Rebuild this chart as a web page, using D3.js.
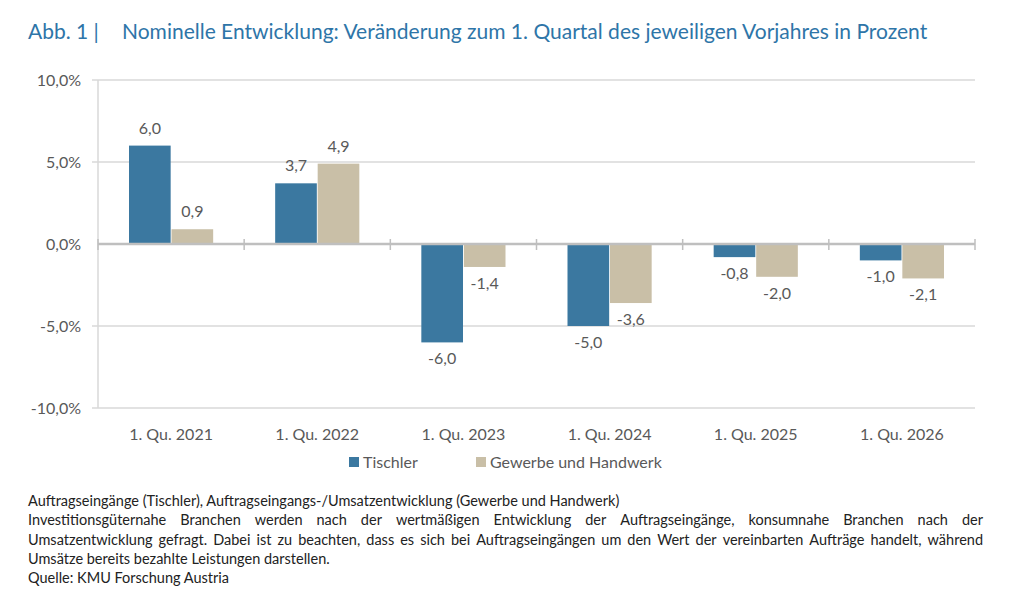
<!DOCTYPE html>
<html lang="de">
<head>
  <meta charset="UTF-8" />
  <title>Nominelle Entwicklung</title>
  <script src="https://d3js.org/d3.v7.min.js"></script>
  <style>
    body {
      margin: 0;
      background: #fff;
      font-family: Lato, "Open Sans", sans-serif;
    }
    svg { display: block; }
    .tick-label, .cat-label, .legend-label {
      font-size: 16px;
      fill: #595959;
    }
    .value-label {
      font-size: 16px;
      fill: #595959;
      text-anchor: middle;
    }
    .note {
      font-size: 14.5px;
      fill: #222;
    }
  </style>
</head>
<body>
  <svg width="1024" height="590"></svg>
  <script>
    const categories = ["1. Qu. 2021", "1. Qu. 2022", "1. Qu. 2023", "1. Qu. 2024", "1. Qu. 2025", "1. Qu. 2026"];
    const seriesNames = ["Tischler", "Gewerbe und Handwerk"];
    const tischler = [6.0, 3.7, -6.0, -5.0, -0.8, -1.0];
    const gewerbe = [0.9, 4.9, -1.4, -3.6, -2.0, -2.1];
    const yTicks = [10, 5, 0, -5, -10];
    const colors = ["#3b78a0", "#c9bfa7"];

    const notes = [
      { text: "Auftragseingänge (Tischler), Auftragseingangs-/Umsatzentwicklung (Gewerbe und Handwerk)", justify: false },
      { text: "Investitionsgüternahe Branchen werden nach der wertmäßigen Entwicklung der Auftragseingänge, konsumnahe Branchen nach der", justify: true },
      { text: "Umsatzentwicklung gefragt. Dabei ist zu beachten, dass es sich bei Auftragseingängen um den Wert der vereinbarten Aufträge handelt, während", justify: true },
      { text: "Umsätze bereits bezahlte Leistungen darstellen.", justify: false },
      { text: "Quelle: KMU Forschung Austria", justify: false }
    ];

    const svg = d3.select("svg");
    const plotLeft = 98, plotRight = 975, plotTop = 80, plotBottom = 408;

    // title
    svg.append("text")
      .attr("x", 28).attr("y", 39)
      .attr("fill", "#2e75a8")
      .style("font-size", "21px")
      .text("Abb. 1 |");
    svg.append("text")
      .attr("x", 122).attr("y", 39)
      .attr("fill", "#2e75a8")
      .style("font-size", "21px")
      .text("Nominelle Entwicklung: Veränderung zum 1. Quartal des jeweiligen Vorjahres in Prozent");

    const y = d3.scaleLinear().domain([-10, 10]).range([plotBottom, plotTop]);
    const x0 = d3.scaleBand().domain(categories).range([plotLeft, plotRight]);
    const x1 = d3.scaleBand().domain(seriesNames).range([31, x0.bandwidth() - 31]).paddingInner(0.02);

    // gridlines
    svg.append("g")
      .selectAll("line")
      .data(yTicks.filter(d => d !== 0))
      .join("line")
      .attr("x1", plotLeft - 6).attr("x2", plotRight)
      .attr("y1", d => y(d)).attr("y2", d => y(d))
      .attr("stroke", "#d9d9d9")
      .attr("stroke-width", 1.5);

    // left axis line
    svg.append("line")
      .attr("x1", plotLeft).attr("x2", plotLeft)
      .attr("y1", plotTop).attr("y2", plotBottom)
      .attr("stroke", "#d9d9d9")
      .attr("stroke-width", 1.5);

    // y tick labels
    svg.append("g")
      .selectAll("text")
      .data(yTicks)
      .join("text")
      .attr("class", "tick-label")
      .attr("x", 81)
      .attr("y", d => y(d) + 5.5)
      .attr("text-anchor", "end")
      .text(d => d3.format(".1f")(d).replace(".", ",").replace("−", "-") + "%");

    // bars
    const data = categories.map((c, i) => ({ cat: c, vals: [tischler[i], gewerbe[i]] }));
    const groups = svg.append("g")
      .selectAll("g")
      .data(data)
      .join("g")
      .attr("transform", d => `translate(${x0(d.cat)},0)`);

    groups.selectAll("rect")
      .data(d => d.vals.map((v, j) => ({ name: seriesNames[j], v, j })))
      .join("rect")
      .attr("x", d => x1(d.name))
      .attr("width", x1.bandwidth())
      .attr("y", d => y(Math.max(0, d.v)))
      .attr("height", d => Math.abs(y(d.v) - y(0)))
      .attr("fill", d => colors[d.j]);

    groups.selectAll("text")
      .data(d => d.vals.map((v, j) => ({ name: seriesNames[j], v, j })))
      .join("text")
      .attr("class", "value-label")
      .attr("x", d => x1(d.name) + x1.bandwidth() / 2)
      .attr("y", d => d.v >= 0 ? y(d.v) - 12 : y(d.v) + 22)
      .text(d => d3.format(".1f")(d.v).replace(".", ",").replace("−", "-"));

    // zero line with ticks
    svg.append("line")
      .attr("x1", plotLeft).attr("x2", plotRight)
      .attr("y1", y(0)).attr("y2", y(0))
      .attr("stroke", "#bfbfbf")
      .attr("stroke-width", 2.5);
    const bounds = categories.map(c => x0(c)).concat([plotRight]);
    svg.append("g")
      .selectAll("line")
      .data(bounds)
      .join("line")
      .attr("x1", d => d).attr("x2", d => d)
      .attr("y1", y(0) - 5).attr("y2", y(0) + 6)
      .attr("stroke", "#bfbfbf")
      .attr("stroke-width", 1.5);

    // category labels
    svg.append("g")
      .selectAll("text")
      .data(categories)
      .join("text")
      .attr("class", "cat-label")
      .attr("x", d => x0(d) + x0.bandwidth() / 2)
      .attr("y", 440)
      .attr("text-anchor", "middle")
      .text(d => d);

    // legend
    const legendX = [349, 476];
    const legend = svg.append("g")
      .selectAll("g")
      .data(seriesNames)
      .join("g")
      .attr("transform", (d, i) => `translate(${legendX[i]},457)`);
    legend.append("rect")
      .attr("width", 10).attr("height", 10)
      .attr("fill", (d, i) => colors[i]);
    legend.append("text")
      .attr("class", "legend-label")
      .attr("x", 14).attr("y", 11)
      .text(d => d);

    // footnotes
    const noteLeft = 28, noteRight = 983;
    notes.forEach((n, i) => {
      const yy = 506 + i * 19.3;
      if (!n.justify) {
        svg.append("text").attr("class", "note").attr("x", noteLeft).attr("y", yy).text(n.text);
        return;
      }
      const words = n.text.split(" ");
      const g = svg.append("g");
      const nodes = words.map(w => g.append("text").attr("class", "note").attr("y", yy).text(w));
      const widths = nodes.map(t => t.node().getComputedTextLength());
      const total = d3.sum(widths);
      const gap = (noteRight - noteLeft - total) / (words.length - 1);
      let cx = noteLeft;
      nodes.forEach((t, k) => {
        t.attr("x", cx);
        cx += widths[k] + gap;
      });
    });
  </script>
</body>
</html>
